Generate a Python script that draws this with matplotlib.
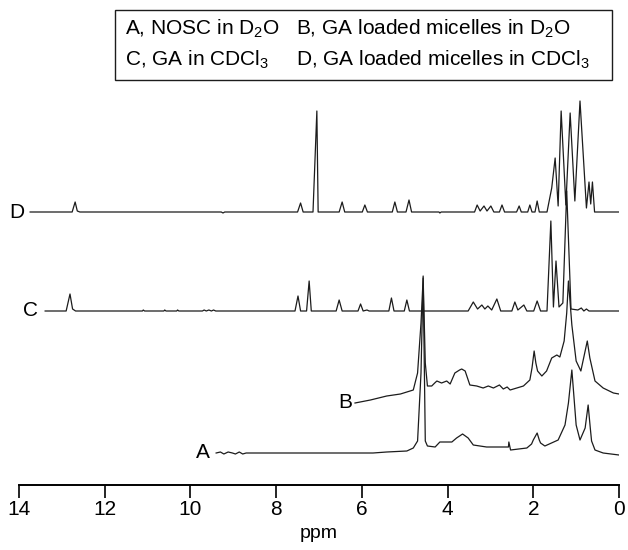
import numpy as np
import matplotlib.pyplot as plt
from matplotlib.patches import Rectangle
plt.switch_backend('agg')

plt.rcParams['font.family'] = ['Liberation Sans', 'DejaVu Sans']
plt.rcParams['mathtext.default'] = 'regular'

# spectra: (ppm, intensity above own baseline)
spec_A = [(9.40, 0), (9.30, 1), (9.22, -1), (9.12, 1), (9.02, 0), (8.95, -1), (8.86, 1), (8.78, -1),
          (8.70, 0), (5.74, 0), (5.42, 1), (4.95, 2), (4.80, 5), (4.70, 12), (4.62, 80), (4.57, 177),
          (4.52, 12), (4.47, 7), (4.29, 6), (4.18, 11), (3.90, 11), (3.79, 15), (3.65, 19), (3.52, 15),
          (3.40, 8), (3.09, 6), (2.78, 6), (2.58, 6), (2.57, 11), (2.53, 3), (2.15, 5), (2.04, 9), (2.00, 13),
          (1.91, 20), (1.86, 13), (1.83, 10), (1.73, 7), (1.42, 13), (1.26, 28), (1.18, 50), (1.10, 83),
          (1.04, 50), (1.00, 28), (0.91, 13), (0.79, 25), (0.72, 48), (0.67, 25), (0.64, 12), (0.56, 3),
          (0.37, 0), (0.0, -2)]

spec_B = [(6.16, 0), (5.80, 3), (5.42, 7), (5.10, 9), (4.80, 13), (4.70, 30), (4.62, 80), (4.57, 125),
          (4.52, 40), (4.47, 17), (4.37, 17), (4.30, 20), (4.25, 22), (4.14, 20), (4.02, 22), (3.94, 19),
          (3.83, 30), (3.72, 33), (3.67, 34), (3.59, 32), (3.48, 18), (3.32, 17), (3.17, 15), (3.05, 17),
          (2.93, 15), (2.79, 18), (2.70, 14), (2.61, 16), (2.54, 13), (2.23, 17), (2.08, 23), (2.03, 35),
          (1.98, 52), (1.94, 40), (1.90, 32), (1.80, 27), (1.69, 32), (1.57, 45), (1.45, 48), (1.38, 46),
          (1.28, 62), (1.22, 90), (1.18, 122), (1.14, 100), (1.10, 78), (1.00, 42), (0.89, 32), (0.79, 52),
          (0.74, 62), (0.68, 45), (0.56, 22), (0.37, 15), (0.13, 10), (0.0, 9)]

spec_C = [(13.39, 0), (12.90, 0), (12.81, 17), (12.75, 2), (12.68, 0), (11.12, 0), (11.10, 1), (11.07, 0),
          (10.62, 0), (10.60, 1), (10.57, 0), (10.32, 0), (10.30, 1), (10.27, 0), (9.72, 0), (9.68, 1),
          (9.63, 0), (9.57, 1), (9.51, 0), (9.46, 1), (9.41, 0), (7.56, 0), (7.49, 15), (7.43, 0),
          (7.29, 0), (7.23, 30), (7.18, 0), (6.60, 0), (6.53, 11), (6.46, 0), (6.09, 0), (6.03, 7),
          (5.97, 0), (5.88, 1), (5.83, 0), (5.37, 0), (5.31, 13), (5.25, 0), (5.01, 0), (4.95, 11),
          (4.89, 0), (3.52, 0), (3.40, 9), (3.30, 2), (3.20, 6), (3.13, 2), (3.06, 5), (2.97, 1),
          (2.85, 12), (2.76, 0), (2.50, 0), (2.43, 9), (2.36, 1), (2.22, 6), (2.15, 0), (1.99, 0),
          (1.91, 10), (1.83, 0), (1.68, 0), (1.59, 90), (1.53, 4), (1.47, 50), (1.40, 4), (1.31, 8),
          (1.22, 120), (1.12, 2), (0.96, 1), (0.88, 3), (0.82, 0), (0.76, 2), (0.70, 0), (0.0, 0)]

spec_D = [(13.74, 0), (12.76, 0), (12.69, 10), (12.64, 1), (12.58, 0), (9.28, 0), (9.24, -1), (9.20, 0),
          (7.50, 0), (7.43, 9), (7.37, 0), (7.14, 0), (7.05, 101), (7.02, 0), (6.53, 0), (6.46, 10),
          (6.40, 0), (5.99, 0), (5.93, 7), (5.87, 0), (5.29, 0), (5.23, 10), (5.17, 0), (4.97, 0),
          (4.90, 12), (4.84, 0), (4.20, 0), (4.18, -1), (4.15, 0), (3.37, 0), (3.31, 7), (3.24, 1),
          (3.15, 6), (3.08, 1), (2.99, 6), (2.92, 0), (2.79, 0), (2.73, 7), (2.67, 0), (2.39, 0),
          (2.33, 6), (2.28, 0), (2.13, 0), (2.08, 7), (2.03, 0), (1.96, 0), (1.91, 11), (1.86, 0),
          (1.68, 0), (1.57, 24), (1.49, 54), (1.42, 6), (1.35, 101), (1.24, 7), (1.14, 99), (1.03, 11),
          (0.91, 111), (0.76, 4), (0.70, 30), (0.66, 8), (0.62, 30), (0.57, 0), (0.0, 0)]

names = ['A', 'B', 'C', 'D']
legend_txt = ['A, NOSC in D$_2$O', 'B, GA loaded micelles in D$_2$O',
              'C, GA in CDCl$_3$', 'D, GA loaded micelles in CDCl$_3$']

# vertical stacking and where the letter sits (ppm)
offsets = {'A': 32, 'B': 82, 'C': 174, 'D': 273}
label_x = {'A': 9.71, 'B': 6.39, 'C': 13.74, 'D': 14.05}

fig = plt.figure(figsize=(6.28, 5.5), dpi=100)
ax = fig.add_axes([19 / 628, 65 / 550, 600 / 628, 395 / 550])

for n, spec in zip(names, [spec_A, spec_B, spec_C, spec_D]):
    x, y = np.array(spec, dtype=float).T
    ax.plot(x, y + offsets[n], color='#1c1c1c', lw=0.9)
    ax.text(label_x[n], offsets[n] + y[0], n, fontsize=15, ha='center', va='center', clip_on=False)

ax.set_xlim(14, 0)
ax.set_ylim(0, 395)
ax.set_xticks(range(0, 15, 2))
for s in ['top', 'left', 'right']:
    ax.spines[s].set_visible(False)
ax.spines['bottom'].set_linewidth(1.4)
ax.set_yticks([])
ax.tick_params(axis='x', direction='out', length=9, width=1.2, labelsize=15, pad=2)
ax.set_xlabel('ppm', fontsize=14, labelpad=4)
ax.patch.set_alpha(0)

# legend box
fig.patches.append(Rectangle((115 / 628, 1 - 80 / 550), 497 / 628, 70 / 550, transform=fig.transFigure,
                             fill=False, edgecolor='#1c1c1c', lw=1.0))
fig.text(125 / 628, 1 - 29 / 550, legend_txt[0], fontsize=15, va='center')
fig.text(296 / 628, 1 - 29 / 550, legend_txt[1], fontsize=15, va='center')
fig.text(125 / 628, 1 - 60 / 550, legend_txt[2], fontsize=15, va='center')
fig.text(296 / 628, 1 - 60 / 550, legend_txt[3], fontsize=15, va='center')

fig.savefig('out.png', dpi=100)
